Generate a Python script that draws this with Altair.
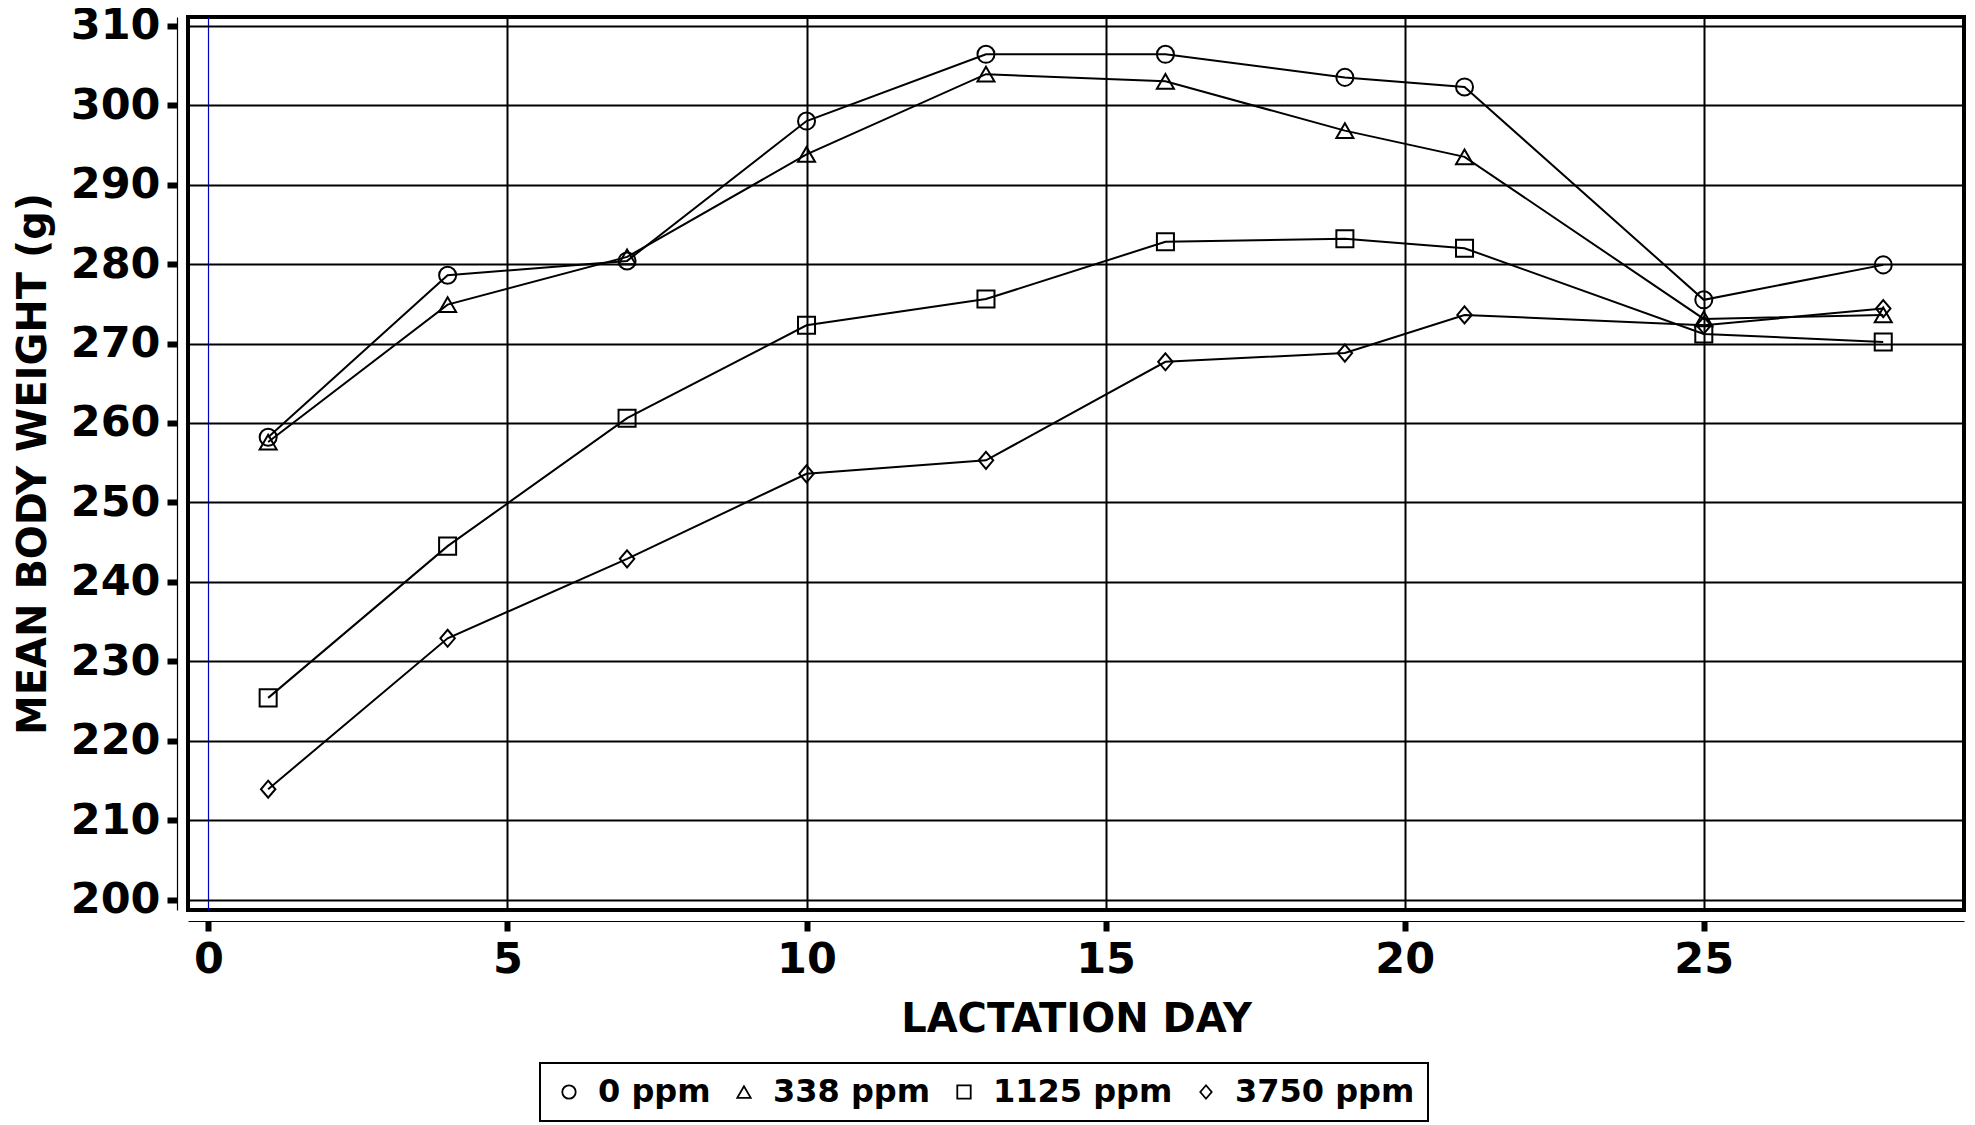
import altair as alt
import pandas as pd

# ---- data ----
days = [1, 4, 7, 10, 13, 16, 19, 21, 25, 28]
groups = ["0 ppm", "338 ppm", "1125 ppm", "3750 ppm"]
w_0 = [258.2, 278.6, 280.4, 298.0, 306.4, 306.4, 303.5, 302.3, 275.5, 279.9]
w_338 = [257.6, 274.9, 280.9, 293.8, 303.9, 303.0, 296.8, 293.5, 273.1, 273.6]
w_1125 = [225.4, 244.5, 260.6, 272.3, 275.6, 282.8, 283.2, 282.0, 271.2, 270.2]
w_3750 = [213.9, 232.9, 242.9, 253.6, 255.3, 267.7, 268.8, 273.6, 272.3, 274.4]

x_ticks = [0, 5, 10, 15, 20, 25]
y_ticks = [200, 210, 220, 230, 240, 250, 260, 270, 280, 290, 300, 310]

rows = []
for g, vals in zip(groups, [w_0, w_338, w_1125, w_3750]):
    for d, v in zip(days, vals):
        rows.append({"day": d, "weight": v, "group": g})
df = pd.DataFrame(rows)

FONT = "DejaVu Sans"
shapes = ["circle", "triangle-up", "square", "M0,-1L0.85,0L0,1L-0.85,0Z"]

xscale = alt.Scale(domain=[-0.34, 29.35], nice=False, zero=False)
yscale = alt.Scale(domain=[198.7, 311.1], nice=False, zero=False)

common_axis = dict(
    offset=11, grid=True, domainColor="black", domainWidth=1.2,
    tickColor="black", tickWidth=6, tickSize=10,
    labelFont=FONT, labelFontSize=43, labelFontWeight="bold", labelColor="black",
    labelPadding=7, labelFlush=False, labelOverlap=False, format="d",
    titleFont=FONT, titleFontSize=40, titleFontWeight="bold", titleColor="black",
)

xaxis = alt.Axis(
    values=x_ticks, title="LACTATION DAY", titlePadding=18,
    gridColor={"condition": {"test": "datum.value === 0", "value": "#0000c0"}, "value": "black"},
    gridWidth={"condition": {"test": "datum.value === 0", "value": 1.2}, "value": 2},
    **common_axis,
)
yaxis = alt.Axis(
    values=y_ticks, title="MEAN BODY WEIGHT (g)", titlePadding=17,
    gridColor="black", gridWidth=2,
    **common_axis,
)

base = alt.Chart(df)

lines = base.mark_line(color="black", strokeWidth=2).encode(
    x=alt.X("day:Q", scale=xscale, axis=xaxis),
    y=alt.Y("weight:Q", scale=yscale, axis=yaxis),
    detail="group:N",
    order="day:Q",
)

points = base.mark_point(filled=False, color="black", strokeWidth=2, size=290, opacity=1).encode(
    x=alt.X("day:Q", scale=xscale),
    y=alt.Y("weight:Q", scale=yscale),
    shape=alt.Shape(
        "group:N",
        scale=alt.Scale(domain=groups, range=shapes),
        legend=alt.Legend(
            title=None, orient="none", legendX=352, legendY=1046,
            direction="horizontal", strokeColor="black", fillColor="white",
            padding=13, labelFont=FONT, labelFontSize=32, labelFontWeight="bold",
            labelColor="black", labelLimit=400, symbolSize=180, symbolStrokeWidth=1.8,
            symbolStrokeColor="black", labelOffset=13, columnPadding=17,
        ),
    ),
)

chart = (
    alt.layer(lines, points)
    .properties(
        width=1776, height=893,
        autosize=alt.AutoSizeParams(type="none"),
        padding={"left": 180, "top": 9, "right": 2, "bottom": 213},
    )
    .configure_view(stroke="black", strokeWidth=4)
    .configure_legend(strokeWidth=2)
)

chart.save("out.html", embed_options={"renderer": "svg", "actions": False})
